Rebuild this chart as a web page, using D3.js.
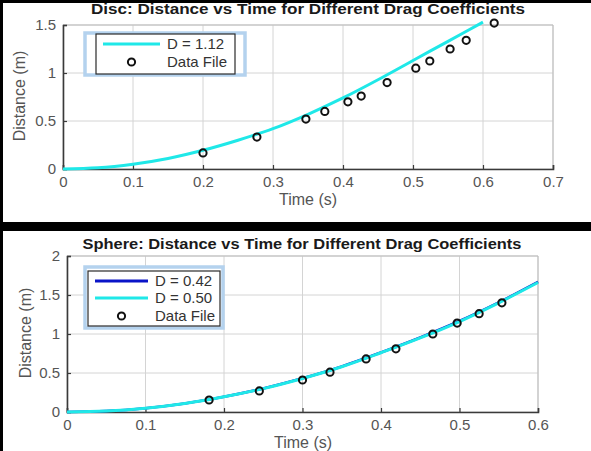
<!DOCTYPE html>
<html>
<head>
<meta charset="utf-8">
<script src="https://cdn.jsdelivr.net/npm/d3@7"></script>
<style>
  body { margin: 0; background: #fff; }
  text { font-family: "Liberation Sans", Arial, sans-serif; }
</style>
</head>
<body>
<div id="chart"></div>
<script>
// disc run, model curve D = 1.12
var discTime = [0, 0.05, 0.1, 0.15, 0.2, 0.25, 0.3, 0.35, 0.4, 0.45, 0.5, 0.55, 0.6];
var discD112 = [0, 0.012, 0.05, 0.11, 0.195, 0.3, 0.42, 0.57, 0.74, 0.93, 1.13, 1.33, 1.53];
// disc measured points
var discFileT = [0.2, 0.277, 0.347, 0.374, 0.407, 0.426, 0.463, 0.504, 0.524, 0.553, 0.576, 0.616];
var discFileD = [0.167, 0.333, 0.52, 0.6, 0.7, 0.76, 0.9, 1.05, 1.125, 1.25, 1.34, 1.52];

// sphere run, model curves D = 0.42 and D = 0.50
var sphereTime = [0, 0.05, 0.1, 0.15, 0.2, 0.25, 0.3, 0.35, 0.4, 0.45, 0.5, 0.55, 0.6];
var sphereD042 = [0, 0.012, 0.049, 0.11, 0.196, 0.302, 0.432, 0.584, 0.763, 0.955, 1.166, 1.405, 1.668];
var sphereD050 = [0, 0.012, 0.049, 0.11, 0.195, 0.3, 0.43, 0.58, 0.76, 0.95, 1.16, 1.4, 1.66];
// sphere measured points
var sphereFileT = [0.181, 0.245, 0.3, 0.335, 0.381, 0.419, 0.466, 0.497, 0.525, 0.554];
var sphereFileD = [0.154, 0.27, 0.41, 0.51, 0.68, 0.81, 1.0, 1.14, 1.26, 1.4];

// tick labels
var discXTicks = [0, 0.1, 0.2, 0.3, 0.4, 0.5, 0.6, 0.7];
var discYTicks = [0, 0.5, 1, 1.5];
var sphereXTicks = [0, 0.1, 0.2, 0.3, 0.4, 0.5, 0.6];
var sphereYTicks = [0, 0.5, 1, 1.5, 2];

var svgWidth = 591;
var svgHeight = 451;

var cyan = "#1fe8e8";
var darkBlue = "#0a14c8";

var svg = d3.select("#chart")
  .append("svg")
  .attr("width", svgWidth)
  .attr("height", svgHeight);

svg.append("rect")
  .attr("width", svgWidth)
  .attr("height", svgHeight)
  .attr("fill", "#fff");

function zipPts(xs, ys) {
  return xs.map(function(x, i) { return { t: x, d: ys[i] }; });
}

function drawPanel(p) {
  var x = d3.scaleLinear().domain(p.xDomain).range([p.left, p.right]);
  var y = d3.scaleLinear().domain(p.yDomain).range([p.bottom, p.top]);
  var g = svg.append("g");

  // grid
  g.selectAll(".gx").data(p.xTicks).enter().append("line")
    .attr("x1", d => x(d)).attr("x2", d => x(d))
    .attr("y1", p.top).attr("y2", p.bottom)
    .attr("stroke", "#d4d4d4").attr("stroke-width", 1);
  g.selectAll(".gy").data(p.yTicks).enter().append("line")
    .attr("x1", p.left).attr("x2", p.right)
    .attr("y1", d => y(d)).attr("y2", d => y(d))
    .attr("stroke", "#d4d4d4").attr("stroke-width", 1);

  // light box on top and right
  g.append("path")
    .attr("d", `M${p.left},${p.top}H${p.right}V${p.bottom}`)
    .attr("fill", "none").attr("stroke", "#bdbdbd").attr("stroke-width", 1);

  // axes, ticks pointing inwards
  var bottomAxis = d3.axisBottom(x).tickValues(p.xTicks).tickSize(-4).tickPadding(7)
    .tickFormat(d => String(d));
  var leftAxis = d3.axisLeft(y).tickValues(p.yTicks).tickSize(-4).tickPadding(7)
    .tickFormat(d => String(d));

  var xa = g.append("g")
    .attr("transform", `translate(0, ${p.bottom})`)
    .call(bottomAxis);
  var ya = g.append("g")
    .attr("transform", `translate(${p.left}, 0)`)
    .call(leftAxis);

  [xa, ya].forEach(function(a) {
    a.select(".domain").attr("stroke", "#3a3a3a").attr("stroke-width", 1.6);
    a.selectAll(".tick line").attr("stroke", "#3a3a3a").attr("stroke-width", 1.2);
    a.selectAll(".tick text")
      .attr("fill", "#555")
      .style("font-size", "15px")
      .style("font-family", "'Liberation Sans', Arial, sans-serif");
  });

  // model curves
  var line = d3.line()
    .x(d => x(d.t))
    .y(d => y(d.d))
    .curve(d3.curveMonotoneX);

  p.curves.forEach(function(c) {
    g.append("path")
      .datum(zipPts(c.t, c.d))
      .attr("d", line)
      .attr("fill", "none")
      .attr("stroke", c.color)
      .attr("stroke-width", c.width);
  });

  // data file markers
  g.selectAll(".pt").data(zipPts(p.fileT, p.fileD)).enter().append("circle")
    .attr("cx", d => x(d.t))
    .attr("cy", d => y(d.d))
    .attr("r", 3.6)
    .attr("fill", "none")
    .attr("stroke", "#111")
    .attr("stroke-width", 2);

  // labels
  g.append("text")
    .attr("x", p.titleX).attr("y", p.titleY)
    .attr("text-anchor", "middle")
    .attr("textLength", p.titleLen)
    .attr("lengthAdjust", "spacingAndGlyphs")
    .style("font-size", "15px").style("font-weight", "bold")
    .attr("fill", "#1a1a1a")
    .text(p.title);

  g.append("text")
    .attr("x", p.xLabelX).attr("y", p.xLabelY)
    .attr("text-anchor", "middle")
    .style("font-size", "16px")
    .attr("fill", "#555")
    .text("Time (s)");

  g.append("text")
    .attr("transform", `translate(${p.yLabelX}, ${p.yLabelY}) rotate(-90)`)
    .attr("text-anchor", "middle")
    .style("font-size", "16px")
    .attr("fill", "#555")
    .text("Distance (m)");

  // legend (selected look, blue glow)
  var L = p.legend;
  g.append("rect")
    .attr("x", L.gx).attr("y", L.gy).attr("width", L.gw).attr("height", L.gh)
    .attr("fill", "#fff").attr("stroke", "#b4d2ee").attr("stroke-width", 3.5);
  g.append("rect")
    .attr("x", L.bx).attr("y", L.by).attr("width", L.bw).attr("height", L.bh)
    .attr("fill", "#fff").attr("stroke", "#2a2a2a").attr("stroke-width", 1.2);

  L.items.forEach(function(it) {
    if (it.kind === "line") {
      g.append("line")
        .attr("x1", L.lineX1).attr("x2", L.lineX2)
        .attr("y1", it.y).attr("y2", it.y)
        .attr("stroke", it.color).attr("stroke-width", 3);
    } else {
      g.append("circle")
        .attr("cx", (L.lineX1 + L.lineX2) / 2).attr("cy", it.y)
        .attr("r", 3.6).attr("fill", "none")
        .attr("stroke", "#111").attr("stroke-width", 2);
    }
    g.append("text")
      .attr("x", L.textX).attr("y", it.y + 5)
      .style("font-size", "15px")
      .attr("fill", "#333")
      .text(it.label);
  });
}

drawPanel({
  xDomain: [0, 0.7], yDomain: [0, 1.5],
  left: 63, right: 553, top: 25, bottom: 169,
  xTicks: discXTicks, yTicks: discYTicks,
  curves: [{ t: discTime, d: discD112, color: cyan, width: 3 }],
  fileT: discFileT, fileD: discFileD,
  title: "Disc: Distance vs Time for Different Drag Coefficients",
  titleX: 308, titleY: 14, titleLen: 434,
  xLabelX: 308, xLabelY: 205,
  yLabelX: 25, yLabelY: 96,
  legend: {
    gx: 85, gy: 33, gw: 160, gh: 42,
    bx: 96, by: 34, bw: 139, bh: 40,
    lineX1: 103, lineX2: 160, textX: 167,
    items: [
      { kind: "line", color: cyan, label: "D = 1.12", y: 44 },
      { kind: "marker", label: "Data File", y: 62 }
    ]
  }
});

drawPanel({
  xDomain: [0, 0.6], yDomain: [0, 2],
  left: 67, right: 538, top: 256, bottom: 412,
  xTicks: sphereXTicks, yTicks: sphereYTicks,
  curves: [
    { t: sphereTime, d: sphereD042, color: darkBlue, width: 2.6 },
    { t: sphereTime, d: sphereD050, color: cyan, width: 3 }
  ],
  fileT: sphereFileT, fileD: sphereFileD,
  title: "Sphere: Distance vs Time for Different Drag Coefficients",
  titleX: 302, titleY: 249, titleLen: 439,
  xLabelX: 303, xLabelY: 448,
  yLabelX: 31, yLabelY: 333,
  legend: {
    gx: 85, gy: 267, gw: 138, gh: 61,
    bx: 88, by: 271, bw: 132, bh: 55,
    lineX1: 95, lineX2: 148, textX: 155,
    items: [
      { kind: "line", color: darkBlue, label: "D = 0.42", y: 281 },
      { kind: "line", color: cyan, label: "D = 0.50", y: 298 },
      { kind: "marker", label: "Data File", y: 316 }
    ]
  }
});

// screenshot frame: black bars on top, left and between the panels
svg.append("rect").attr("x", 0).attr("y", 0).attr("width", svgWidth).attr("height", 3).attr("fill", "#000");
svg.append("rect").attr("x", 0).attr("y", 0).attr("width", 3).attr("height", svgHeight).attr("fill", "#000");
svg.append("rect").attr("x", 0).attr("y", 222).attr("width", svgWidth).attr("height", 9).attr("fill", "#000");
</script>
</body>
</html>
